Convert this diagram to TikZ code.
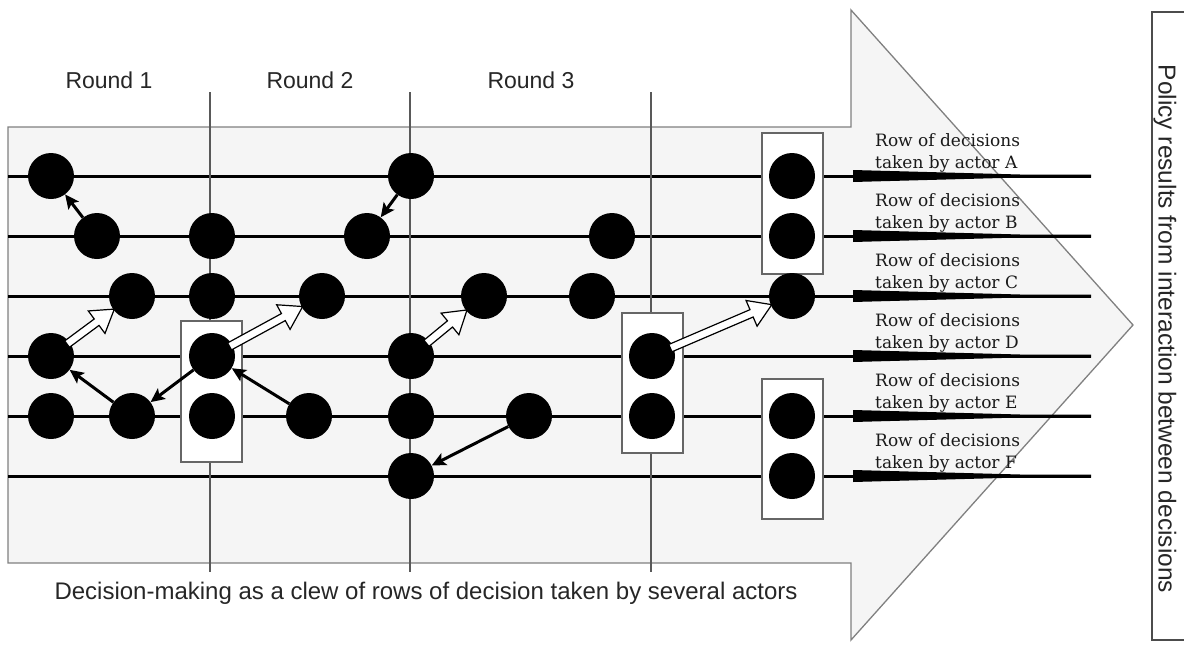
\documentclass[tikz,border=0pt]{standalone}
\usepackage{fontspec}
\setmainfont{Liberation Sans}
\newfontfamily\rowfont{DejaVu Serif}
\usetikzlibrary{calc,arrows.meta}

% hollow "flex" arrow between two decision dots
\newcommand\flexarrow[2]{%
  \coordinate (fs) at ($(#1)!20pt!(#2)$);
  \coordinate (fe) at ($(#2)!22pt!(#1)$);
  \coordinate (fb) at ($(fe)!22pt!(fs)$);
  \draw[hollow] ($(fs)!4pt!90:(fe)$) -- ($(fb)!4pt!90:(fe)$) -- ($(fb)!14pt!90:(fe)$)
     -- (fe) -- ($(fb)!14pt!-90:(fe)$) -- ($(fb)!4pt!-90:(fe)$) -- ($(fs)!4pt!-90:(fe)$) -- cycle;
}

\begin{document}
\begin{tikzpicture}[x=1pt,y=-1pt,
  dot/.style={circle,fill=black,minimum size=46pt,inner sep=0pt},
  rowline/.style={line width=3pt},
  roundline/.style={draw=black!65,line width=1.7pt},
  grpbox/.style={draw=black!60,fill=white,line width=1.6pt},
  pull/.style={line width=3pt,-{Stealth[length=14pt,width=13pt,inset=3pt]}},
  hollow/.style={draw=black,fill=white,line width=1.2pt,line join=miter},
  roundlbl/.style={font=\fontsize{23}{27}\selectfont,text=black!85,anchor=base,inner sep=0pt},
  rowlbl/.style={font=\rowfont\fontsize{17}{22}\selectfont,text=black!90,anchor=base west,inner sep=0pt}
]
\useasboundingbox (0,0) rectangle (1184,651);

% big process arrow
\draw[draw=black!50,fill=black!4,line width=1.3pt]
  (8,127) -- (851,127) -- (851,10) -- (1133,325) -- (851,640) -- (851,563) -- (8,563) -- cycle;

% result box on the right
\draw[draw=black!70,line width=1.3pt] (1200,12) -- (1152,12) -- (1152,640) -- (1200,640);
\node[rotate=-90,font=\fontsize{24.5}{28}\selectfont,text=black!85,inner sep=0pt] (policy) at (1165,329)
  {Policy results from interaction between decisions};

% rows of decisions
\foreach \y in {176,236,296,356,416,476}
  \draw[rowline] (8,\y) -- (1091,\y);

% round separators
\foreach \x in {210,410,651}
  \draw[roundline] (\x,92) -- (\x,572);

\node[roundlbl] (r1) at (109,88) {Round 1};
\node[roundlbl] (r2) at (310,88) {Round 2};
\node[roundlbl] (r3) at (531,88) {Round 3};

% groups of simultaneous decisions
\draw[grpbox] (181,321) rectangle (242,462);
\draw[grpbox] (622,313) rectangle (683,453);
\draw[grpbox] (762,133) rectangle (823,274);
\draw[grpbox] (762,379) rectangle (823,519);

% decisions
\node[dot] (a1) at (51,176) {};
\node[dot] (a2) at (411,176) {};
\node[dot] (a3) at (792,176) {};
\node[dot] (b1) at (97,236) {};
\node[dot] (b2) at (212,236) {};
\node[dot] (b3) at (367,236) {};
\node[dot] (b4) at (612,236) {};
\node[dot] (b5) at (792,236) {};
\node[dot] (c1) at (132,296) {};
\node[dot] (c2) at (212,296) {};
\node[dot] (c3) at (322,296) {};
\node[dot] (c4) at (484,296) {};
\node[dot] (c5) at (592,296) {};
\node[dot] (c6) at (792,296) {};
\node[dot] (d1) at (51,356) {};
\node[dot] (d2) at (212,356) {};
\node[dot] (d3) at (411,356) {};
\node[dot] (d4) at (652,356) {};
\node[dot] (e1) at (51,416) {};
\node[dot] (e2) at (132,416) {};
\node[dot] (e3) at (212,416) {};
\node[dot] (e4) at (309,416) {};
\node[dot] (e5) at (411,416) {};
\node[dot] (e6) at (529,416) {};
\node[dot] (e7) at (652,416) {};
\node[dot] (e8) at (792,416) {};
\node[dot] (f1) at (411,476) {};
\node[dot] (f2) at (792,476) {};

% reactions between decisions
\draw[pull] (b1) -- (a1);
\draw[pull] (a2) -- (b3);
\draw[pull] (e2) -- (d1);
\draw[pull] (d2) -- (e2);
\draw[pull] (e4) -- (d2);
\draw[pull] (e6) -- (f1);

% influences between decisions
\flexarrow{d1}{c1}
\flexarrow{d2}{c3}
\flexarrow{d3}{c4}
\flexarrow{d4}{c6}

% row captions with tapered underline
\foreach \y/\who in {176/A,236/B,296/C,356/D,416/E,476/F}{
  \fill (853,\y-6) -- (1020,\y-1.5) -- (1091,\y-1.5) -- (1091,\y+1.5) -- (1020,\y+1.5) -- (853,\y+6) -- cycle;
  \node[rowlbl] (top\who) at (875,\y-30) {Row of decisions};
  \node[rowlbl] (bot\who) at (875,\y-8) {taken by actor \who};
}

\node[font=\fontsize{24}{28}\selectfont,text=black!85,anchor=base,inner sep=0pt] (caption) at (426,599)
  {Decision-making as a clew of rows of decision taken by several actors};
\end{tikzpicture}
\end{document}
